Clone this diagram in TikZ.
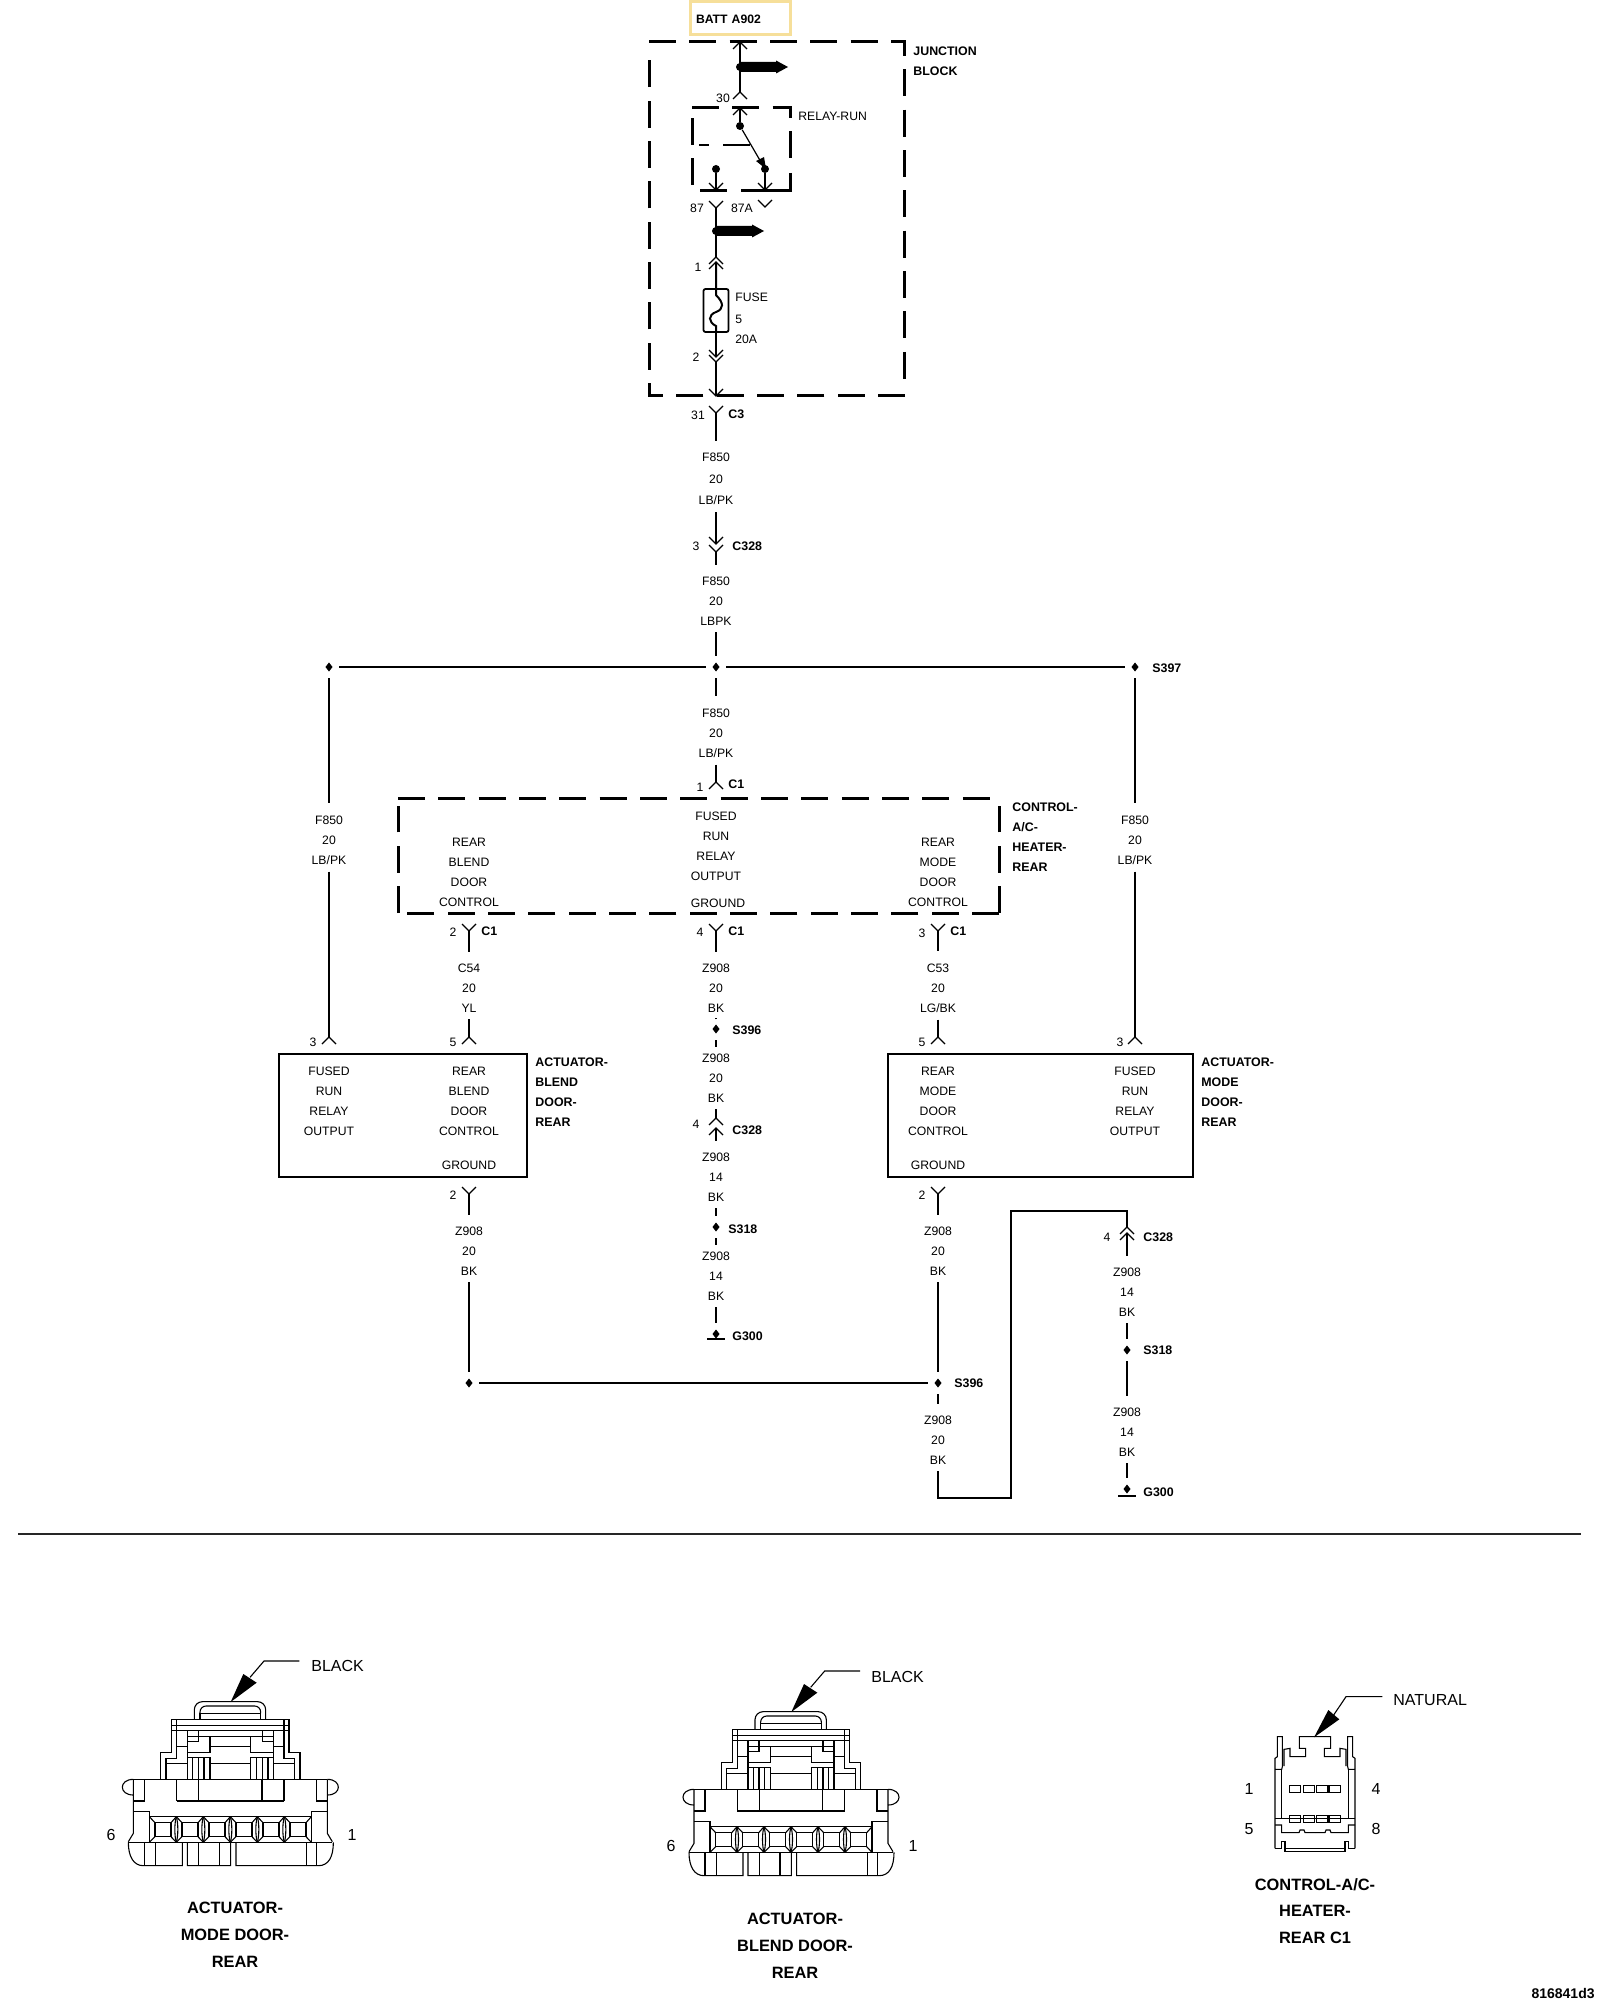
\documentclass[tikz,border=0pt]{standalone}
\usepackage{fontspec}
\setmainfont{Liberation Sans}
\usetikzlibrary{shapes, arrows, calc, positioning}
\definecolor{battcol}{HTML}{F6DF9A}
\tikzstyle{wire} = [line width=0.6pt, black]
\tikzstyle{stub} = [wire, shorten >=2.5pt]
\tikzstyle{bus} = [line width=1.4pt, black]
\tikzstyle{dashbox} = [line width=1.5pt, dash pattern=on 13.5pt off 6.67pt]
\tikzstyle{solidbox} = [rectangle, draw, line width=1.4pt, inner sep=0pt]
\tikzstyle{wirelbl} = [font=\fontsize{6.1}{10}\selectfont, align=center, inner sep=0pt, outer sep=3.6pt]
\tikzstyle{namelbl} = [font=\fontsize{6.2}{10}\selectfont\bfseries, align=left, inner sep=0pt, anchor=west]
\tikzstyle{pinlbl} = [font=\fontsize{6.1}{10}\selectfont, inner sep=0pt]
\tikzstyle{biglbl} = [font=\fontsize{8}{10}\selectfont, inner sep=0pt]
\tikzstyle{bigname} = [font=\fontsize{8.2}{13.4}\selectfont\bfseries, align=center, inner sep=0pt]
\tikzstyle{splice} = [diamond, fill=black, inner sep=0pt, minimum width=5.5pt, minimum height=6.5pt, outer sep=2.4pt]
\tikzstyle{termdot} = [circle, fill=black, inner sep=0pt, minimum size=4pt]
\tikzstyle{conline} = [line width=0.55pt, black]
\tikzset{
  pincaret/.pic={\draw[wire] (-7,7) -- (0,0) -- (7,7);},
  pinvee/.pic={\draw[wire] (-7,-7) -- (0,0) -- (7,-7);},
  fatarrow/.pic={\fill (0,-5) -- (36,-5) -- (36,-6.5) -- (48,0) -- (36,6.5) -- (36,5) -- (0,5) -- cycle; \fill (0,0) circle (4);}
}
\newcommand{\capin}[2]{\path (#2) coordinate (#1) pic {pincaret};}
\newcommand{\vepin}[2]{\path (#2) coordinate (#1) pic {pinvee};}
\newcommand{\actconn}[2]{
  \begin{scope}[x=0.16667pt, y=-0.16667pt, shift={(#1,#2)}, conline]
    \draw[rounded corners=4pt] (-108,237) -- (-108,185) -- (106,185) -- (106,237);
    \draw[rounded corners=3pt] (-91,220) -- (-91,198) -- (91,198) -- (91,220);
    \draw (-91,220) -- (91,220) (-91,220) -- (-91,237) (91,220) -- (91,237);
    \draw (-176,238) -- (176,238) (-176,256) -- (176,256) (-176,272) -- (176,272);
    \draw (-61,290) -- (61,290) (-61,320) -- (61,320) (-61,370) -- (61,370);
    \draw (-291,418) -- (291,418) (-161,483) -- (161,483) (-243,530) -- (243,530) (-306,607) -- (306,607);
    \foreach \sx in {1,-1}{
      \begin{scope}[xscale=\sx]
        \draw (-176,238) -- (-176,338) -- (-209,338) -- (-209,418);
        \draw (-161,238) -- (-161,320) -- (-129,320);
        \draw (-193,418) -- (-193,355) -- (-161,355) -- (-161,320);
        \draw (-193,370) -- (-129,370);
        \draw (-129,272) -- (-129,418);
        \draw (-129,305) -- (-96,305) -- (-96,272);
        \draw (-129,290) -- (-61,290) -- (-61,338) -- (-129,338);
        \draw (-129,352) -- (-61,352) -- (-61,418);
        \draw (-113,352) -- (-113,418) (-96,352) -- (-96,418) (-79,352) -- (-79,418);
        \draw (-291,418) .. controls (-335,418) and (-335,465) .. (-291,465);
        \draw (-291,418) -- (-291,580) -- (-306,605);
        \draw (-291,483) -- (-258,483) -- (-258,418) (-161,418) -- (-161,483) (-95,418) -- (-95,483);
        \draw (-291,515) -- (-243,515) -- (-243,607);
      \end{scope}
    }
    \foreach \cx in {-243,-162,-81,0,81,162}{
      \draw (\cx+17,548) rectangle (\cx+65,590);
      \draw (\cx,530) -- (\cx+17,548) (\cx+81,530) -- (\cx+65,548) (\cx,607) -- (\cx+17,590) (\cx+81,607) -- (\cx+65,590);
    }
    \foreach \cx in {-162,-81,0,81,162}{
      \draw (\cx,530) .. controls (\cx-6,550) and (\cx-6,587) .. (\cx,607);
      \draw (\cx,530) .. controls (\cx+6,550) and (\cx+6,587) .. (\cx,607);
    }
    \draw (-306,607) .. controls (-306,650) and (-290,677) .. (-261,677) -- (-144,677) -- (-144,607) (-129,607) -- (-129,677) -- (1,677) -- (1,607) (17,607) -- (17,677) -- (264,677) .. controls (295,677) and (309,650) .. (309,607);
    \draw (-258,607) -- (-258,677) (-224,607) -- (-224,677) (-95,607) -- (-95,677) (-33,607) -- (-33,677) (229,607) -- (229,677) (259,607) -- (259,677);
    \fill (1,186) -- (39,102) -- (79,128) -- cycle;
    \draw (59,112) -- (101,63) -- (207,63);
  \end{scope}
}
\begin{document}
\begin{tikzpicture}[x=0.5pt, y=-0.5pt]
\useasboundingbox (0,0) rectangle (1600,2000);
% junction block
\node[rectangle, draw=battcol, line width=1.5pt, minimum width=50pt, minimum height=16.5pt, text width=44.5pt, text height=6pt, text depth=0pt, inner xsep=2.75pt, inner ysep=0pt, font=\fontsize{6.1}{10}\selectfont\bfseries] (batt) at (740.5,18) {BATT A902};
\draw[dashbox] (905,396) -| (649,47);
\draw[dashbox] (649,42) -| (904,381);
\node[namelbl] (junction) at (913,61) {JUNCTION\\BLOCK};
\capin{pinbatt}{740,42}
\capin{pin30}{740,92}
\draw[wire] (pinbatt) -- (pin30);
\path (740,67) coordinate (tapa) pic {fatarrow};
\node[pinlbl] (lbl30) at (723,98) {30};
% relay
\draw[dashbox] (692,108) -| (790,125);
\draw[dashbox] (790,131.5) -- (790,158.5);
\draw[line width=1.5pt] (790,173) |- (741,191);
\draw[line width=1.5pt] (700,191) -- (727,191);
\draw[dashbox] (692,185) -- (692,108);
\node[pinlbl, anchor=west] (relaylbl) at (798,116) {RELAY-RUN};
\capin{pinrel}{740,108}
\node[termdot] (relaycom) at (740,126) {};
\node[termdot] (relayno) at (765,169) {};
\node[termdot] (relaync) at (716,169) {};
\draw[wire] (pinrel) -- (relaycom);
\draw[wire] (relaycom) -- (relayno);
\fill (756,161) -- (764,157) -- (766,169) -- cycle;
\draw[wire] (699,145) -- (709,145) (723,145) -- (750,145);
\vepin{pinnc}{716,190}
\vepin{pinno}{765,190}
\draw[wire] (relaync) -- (pinnc);
\draw[wire] (relayno) -- (pinno);
\vepin{pin87}{716,208}
\vepin{pin87a}{765,207}
\node[pinlbl] (lbl87) at (697,208) {87};
\node[pinlbl] (lbl87a) at (742,208) {87A};
\path (716,231) coordinate (tapb) pic {fatarrow};
\capin{pinfa}{716,257}
\capin{pinfb}{716,262}
\draw[wire] (pin87) -- (pinfa);
\node[pinlbl] (lblfa) at (698,267) {1};
% fuse
\node[solidbox, rounded corners=1pt, minimum width=12.5pt, minimum height=21.5pt, line width=0.9pt] (fuse) at (716,310.5) {};
\draw[line width=1pt] (pinfb) -- (fuse.north) -- ++(0,7) .. controls (724,303) and (724,309) .. (716,312) .. controls (708,315) and (708,322) .. (716,326) -- (fuse.south);
\node[pinlbl, anchor=west] (fuselbl) at (735,297) {FUSE};
\node[pinlbl, anchor=west] (fusenum) at (735,319) {5};
\node[pinlbl, anchor=west] (fuseamp) at (735,339) {20A};
\vepin{pinfc}{716,357}
\vepin{pinfd}{716,362}
\draw[line width=1pt] (fuse.south) -- (pinfc);
\node[pinlbl] (lblfc) at (696,357) {2};
\vepin{pinjb}{716,396}
\draw[wire] (pinfd) -- (pinjb);
\vepin{pinc3}{716,413}
\node[pinlbl] (lbl31) at (698,415) {31};
\node[namelbl] (c3lbl) at (728,414) {C3};
% main feed
\node[wirelbl] (wirefa) at (716,479) {F850\\[0.8pt]20\\[0.8pt]LB/PK};
\draw[stub] (pinc3) -- (wirefa);
\vepin{pinca}{716,544}
\vepin{pincb}{716,552}
\draw[wire] (wirefa) -- (pinca);
\node[pinlbl] (lblca) at (696,546) {3};
\node[namelbl] (c328a) at (732,546) {C328};
\node[wirelbl] (wirefb) at (716,601) {F850\\20\\LBPK};
\draw[stub] (pincb) -- (wirefb);
\node[splice] (s397l) at (329,667) {};
\node[splice] (s397m) at (716,667) {};
\node[splice] (s397r) at (1135,667) {};
\draw[bus] (s397l) -- (s397m);
\draw[bus] (s397m) -- (s397r);
\draw[wire] (wirefb) -- (s397m);
\node[namelbl] (s397lbl) at (1152,668) {S397};
\node[wirelbl] (wirefc) at (716,733) {F850\\20\\LB/PK};
\draw[stub] (s397m) -- (wirefc);
\capin{pinctla}{716,782}
\draw[wire] (wirefc) -- (pinctla);
\node[pinlbl] (lblctla) at (700,787) {1};
\node[namelbl] (c1a) at (728,784) {C1};
% control box
\draw[dashbox] (398,798) -- (999,798);
\draw[dashbox] (999,913) -- (398,913);
\draw[dashbox] (398,913) -- (398,806);
\draw[dashbox] (999,913) -- (999,806);
\node[namelbl] (ctllbl) at (1012,837) {CONTROL-\\A/C-\\HEATER-\\REAR};
\node[wirelbl] (ctlblend) at (469,872) {REAR\\BLEND\\DOOR\\CONTROL};
\node[wirelbl] (ctlfuse) at (716,846) {FUSED\\RUN\\RELAY\\OUTPUT};
\node[pinlbl] (ctlgnd) at (718,903) {GROUND};
\node[wirelbl] (ctlmode) at (938,872) {REAR\\MODE\\DOOR\\CONTROL};
\vepin{pinctlb}{469,931}
\vepin{pinctlc}{716,931}
\vepin{pinctld}{938,931}
\node[pinlbl] (lblctlb) at (453,932) {2};
\node[namelbl] (c1b) at (481,931) {C1};
\node[pinlbl] (lblctlc) at (700,932) {4};
\node[namelbl] (c1c) at (728,931) {C1};
\node[pinlbl] (lblctld) at (922,933) {3};
\node[namelbl] (c1d) at (950,931) {C1};
\node[wirelbl] (wirec54) at (469,988) {C54\\20\\YL};
\node[wirelbl] (wirez1) at (716,988) {Z908\\20\\BK};
\node[wirelbl] (wirec53) at (938,988) {C53\\20\\LG/BK};
\draw[stub] (pinctlb) -- (wirec54);
\draw[stub] (pinctlc) -- (wirez1);
\draw[stub] (pinctld) -- (wirec53);
% side feeds
\node[wirelbl] (wirefl) at (329,840) {F850\\20\\LB/PK};
\node[wirelbl] (wirefr) at (1135,840) {F850\\20\\LB/PK};
\draw[stub] (s397l) -- (wirefl);
\draw[stub] (s397r) -- (wirefr);
\capin{pinbla}{329,1037}
\capin{pinblb}{469,1037}
\capin{pinmoa}{938,1037}
\capin{pinmob}{1135,1037}
\draw[wire] (wirefl) -- (pinbla);
\draw[wire] (wirec54) -- (pinblb);
\draw[wire] (wirec53) -- (pinmoa);
\draw[wire] (wirefr) -- (pinmob);
\node[pinlbl] (lblbla) at (313,1042) {3};
\node[pinlbl] (lblblb) at (453,1042) {5};
\node[pinlbl] (lblmoa) at (922,1042) {5};
\node[pinlbl] (lblmob) at (1120,1042) {3};
% actuators
\node[solidbox, minimum width=124pt, minimum height=61.5pt] (actblend) at (403,1115.5) {};
\node[solidbox, minimum width=152.5pt, minimum height=61.5pt] (actmode) at (1040.5,1115.5) {};
\node[wirelbl] (blfuse) at (329,1101) {FUSED\\RUN\\RELAY\\OUTPUT};
\node[wirelbl] (blrear) at (469,1101) {REAR\\BLEND\\DOOR\\CONTROL};
\node[pinlbl] (blgnd) at (469,1165) {GROUND};
\node[wirelbl] (morear) at (938,1101) {REAR\\MODE\\DOOR\\CONTROL};
\node[pinlbl] (mognd) at (938,1165) {GROUND};
\node[wirelbl] (mofuse) at (1135,1101) {FUSED\\RUN\\RELAY\\OUTPUT};
\node[namelbl] (blname) at (535,1092) {ACTUATOR-\\BLEND\\DOOR-\\REAR};
\node[namelbl] (moname) at (1201,1092) {ACTUATOR-\\MODE\\DOOR-\\REAR};
% center ground run
\node[splice] (s396c) at (716,1029) {};
\node[namelbl] (s396clbl) at (732,1030) {S396};
\node[wirelbl] (wirez2) at (716,1078) {Z908\\20\\BK};
\draw[wire] (wirez1) -- (s396c);
\draw[wire] (s396c) -- (wirez2);
\capin{pinzca}{716,1118}
\capin{pinzcb}{716,1128}
\draw[wire] (wirez2) -- (pinzca);
\node[pinlbl] (lblzc) at (696,1124) {4};
\node[namelbl] (c328b) at (732,1130) {C328};
\node[wirelbl] (wirez3) at (716,1177) {Z908\\14\\BK};
\draw[stub] (pinzcb) -- (wirez3);
\node[splice] (s318c) at (716,1227) {};
\node[namelbl] (s318clbl) at (728,1229) {S318};
\node[wirelbl] (wirez4) at (716,1276) {Z908\\14\\BK};
\draw[wire] (wirez3) -- (s318c);
\draw[wire] (s318c) -- (wirez4);
\node[splice] (g300c) at (716,1334) {};
\draw[wire] (wirez4) -- (g300c);
\draw[bus] ([xshift=-4.5pt,yshift=-2.5pt]g300c.center) -- ++(18,0);
\node[namelbl] (g300clbl) at (732,1336) {G300};
% lower ground run
\vepin{pinbgnd}{469,1194}
\vepin{pinmgnd}{938,1194}
\node[pinlbl] (lblbgnd) at (453,1195) {2};
\node[pinlbl] (lblmgnd) at (922,1195) {2};
\node[wirelbl] (wirez5) at (469,1251) {Z908\\20\\BK};
\node[wirelbl] (wirez6) at (938,1251) {Z908\\20\\BK};
\draw[stub] (pinbgnd) -- (wirez5);
\draw[stub] (pinmgnd) -- (wirez6);
\node[splice] (s396l) at (469,1383) {};
\node[splice] (s396r) at (938,1383) {};
\draw[wire] (wirez5) -- (s396l);
\draw[wire] (wirez6) -- (s396r);
\draw[bus] (s396l) -- (s396r);
\node[namelbl] (s396rlbl) at (954,1383) {S396};
\node[wirelbl] (wirez7) at (938,1440) {Z908\\20\\BK};
\draw[stub] (s396r) -- (wirez7);
\coordinate (jogb) at (1011,1498);
\coordinate (jogt) at (1011,1211);
\capin{pinzda}{1127,1227}
\capin{pinzdb}{1127,1233}
\draw[wire] (wirez7.south) |- (jogb) -- (jogt) -| (pinzda);
\node[pinlbl] (lblzd) at (1107,1237) {4};
\node[namelbl] (c328c) at (1143,1237) {C328};
\node[wirelbl] (wirez8) at (1127,1292) {Z908\\14\\BK};
\draw[stub] (pinzdb) -- (wirez8);
\node[splice] (s318r) at (1127,1350) {};
\node[namelbl] (s318rlbl) at (1143,1350) {S318};
\draw[wire] (wirez8) -- (s318r);
\node[wirelbl] (wirez9) at (1127,1432) {Z908\\14\\BK};
\draw[stub] (s318r) -- (wirez9);
\node[splice] (g300r) at (1127,1489) {};
\draw[wire] (wirez9) -- (g300r);
\draw[bus] ([xshift=-4.5pt,yshift=-3.5pt]g300r.center) -- ++(18,0);
\node[namelbl] (g300rlbl) at (1143,1492) {G300};
% separator
\coordinate (rulel) at (18,1534);
\coordinate (ruler) at (1581,1534);
\draw[bus, black!85] (rulel) -- (ruler);
% connector views
\actconn{115.17pt}{-820pt}
\node[biglbl, anchor=west] (blackm) at (311,1666) {BLACK};
\node[biglbl] (mosix) at (111,1835) {6};
\node[biglbl] (moone) at (352,1835) {1};
\node[bigname] (moview) at (235,1935) {ACTUATOR-\\MODE DOOR-\\REAR};
\actconn{395.5pt}{-825pt}
\node[biglbl, anchor=west] (blackb) at (871,1677) {BLACK};
\node[biglbl] (blsix) at (671,1846) {6};
\node[biglbl] (blone) at (913,1846) {1};
\node[bigname] (blview) at (795,1946) {ACTUATOR-\\BLEND DOOR-\\REAR};
\begin{scope}[x=0.16667pt, y=-0.16667pt, shift={(657.5pt,-830pt)}, conline]
  \foreach \sx in {1,-1}{
    \begin{scope}[xscale=\sx]
      \draw (-120,565) -- (-120,295) -- (-113,290) -- (-113,230) -- (-98,230) -- (-98,320) -- (-100,328) -- (-120,328);
      \draw (-100,328) -- (-100,475);
      \draw (-93,318) -- (-93,268) -- (-75,265) -- (-75,290) -- (-28,290) -- (-28,265) -- (-47,265) -- (-47,230) -- (0,230);
      \draw (-120,475) -- (0,475);
      \draw (-120,495) -- (-100,495) -- (-100,518) -- (-48,518) -- (-45,510) -- (-33,510) -- (-30,518) -- (0,518);
      \draw (-120,565) -- (-100,565) -- (-100,545) -- (-90,545) -- (-90,575) -- (0,575);
      \draw (-90,565) -- (0,565);
    \end{scope}
  }
  \foreach \wx in {-77,-35,5,43}{
    \draw (\wx,376) rectangle ++(34,22);
    \draw (\wx,466) rectangle ++(34,22);
  }
  \fill (-3,232) -- (40,150) -- (73,178) -- cycle;
  \draw (56,165) -- (93,110) -- (202,110);
\end{scope}
\node[biglbl, anchor=west] (natural) at (1393,1700) {NATURAL};
\node[biglbl] (acone) at (1249,1789) {1};
\node[biglbl] (acfour) at (1376,1789) {4};
\node[biglbl] (acfive) at (1249,1829) {5};
\node[biglbl] (aceight) at (1376,1829) {8};
\node[bigname] (acview) at (1315,1911) {CONTROL-A/C-\\HEATER-\\REAR C1};
\node[namelbl, anchor=east, font=\fontsize{7}{10}\selectfont\bfseries] (drawnum) at (1595,1993) {816841d3};
\end{tikzpicture}
\end{document}
